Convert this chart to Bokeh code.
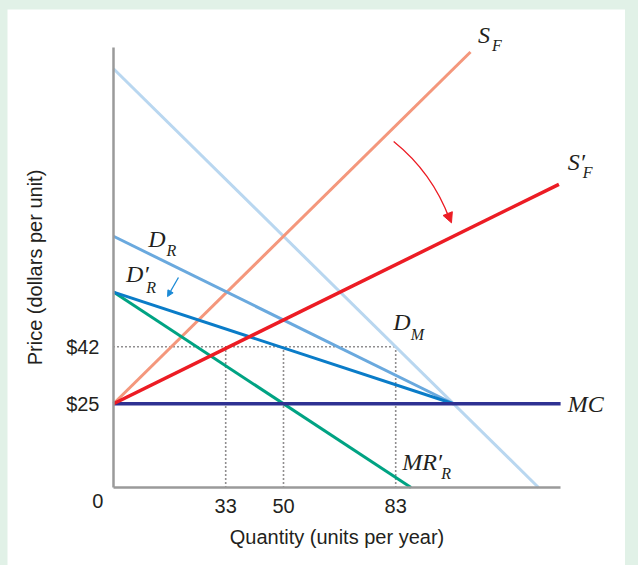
from bokeh.plotting import figure
from bokeh.models import Range1d, FixedTicker, Label, Arrow, NormalHead
from bokeh.embed import file_html
from bokeh.resources import INLINE

# ---------------- data ----------------
x_ticks = [33, 50, 83]
x_tick_labels = ["33", "50", "83"]
y_ticks = [25, 42]
y_tick_labels = ["$25", "$42"]
x_axis_max = 131.5
y_axis_max = 131.3

mc_price = 25
mc_q = [0, 131.5]

sf_q = [0, 105]          # S_F : P = 25 + Q
sf_p = [25, 130]
sf2_q = [0, 131]         # S'_F : P = 25 + Q/2
sf2_p = [25, 90.5]
dm_q = [0, 125]          # D_M : P = 125 - Q
dm_p = [125, 0]
dr_q = [0, 100]          # D_R : P = 75 - Q/2
dr_p = [75, 25]
dr2_q = [0, 100]         # D'_R : P = 58.3 - Q/3
dr2_p = [58.33, 25]
mr_q = [0, 87.5]         # MR'_R : P = 58.3 - 2Q/3
mr_p = [58.33, 0]

price_dot = 42
q_dots = [33, 50, 83]
q_dot_end = 83

# label texts and anchor positions (data units)
main_labels = [("S", 107.2, 135.0), ("S\u2032", 133.6, 97.1), ("D", 10.2, 74.1),
               ("D\u2032", 3.7, 63.7), ("D", 82.3, 49.4), ("MC", 133.6, 24.9),
               ("MR\u2032", 84.9, 7.6)]
sub_labels = [("F", 111.3, 132.0), ("F", 138.0, 94.1), ("R", 15.6, 70.6),
              ("R", 9.6, 59.8), ("M", 87.4, 45.8), ("R", 96.4, 4.3)]

# curved red arrow (start, control, end) and blue arrow
red_curve = dict(x0=82.4, y0=103.3, cx=93.8, cy=94.0, x1=98.9, y1=80.0)
red_head = dict(xs=98.2, ys=82.0, xe=99.4, ye=79.0)
blue_arrow = dict(xs=19.1, ys=62.7, xe=15.9, ye=57.0)

# ---------------- layout ----------------
W, H = 618, 556
sx, sy = 3.4, 3.35          # pixels per data unit
ox, oy = 106, 478           # position of the data origin inside the figure

p = figure(width=W, height=H, output_backend="svg", toolbar_location=None,
           x_range=Range1d(-ox / sx, (W - ox) / sx),
           y_range=Range1d(-(H - oy) / sy, oy / sy),
           min_border_left=0, min_border_right=0, min_border_top=0,
           min_border_bottom=0)
p.outline_line_color = None
p.grid.visible = False
p.background_fill_color = "white"
p.border_fill_color = "white"

axis_gray = "#9a9a9a"
text_col = "#231f20"
for ax in (p.xaxis[0], p.yaxis[0]):
    ax.fixed_location = 0
    ax.axis_line_color = axis_gray
    ax.axis_line_width = 2.5
    ax.major_tick_line_color = None
    ax.minor_tick_line_color = None
    ax.major_label_text_font = "Liberation Sans"
    ax.major_label_text_font_size = "20px"
    ax.major_label_text_color = text_col
    ax.axis_label_text_font = "Liberation Sans"
    ax.axis_label_text_font_size = "20px"
    ax.axis_label_text_font_style = "normal"
    ax.axis_label_text_color = text_col

p.xaxis.bounds = (0, x_axis_max)
p.xaxis.ticker = FixedTicker(ticks=x_ticks)
p.xaxis.major_label_overrides = {t: l for t, l in zip(x_ticks, x_tick_labels)}
p.xaxis.major_label_standoff = 5
p.xaxis.axis_label = "Quantity (units per year)"
p.xaxis.axis_label_standoff = 10

p.yaxis.bounds = (0, y_axis_max)
p.yaxis.ticker = FixedTicker(ticks=y_ticks)
p.yaxis.major_label_overrides = {t: l for t, l in zip(y_ticks, y_tick_labels)}
p.yaxis.major_label_standoff = 8
p.yaxis.axis_label = "Price (dollars per unit)"
p.yaxis.axis_label_standoff = 17

# dotted guide lines
p.line([0, q_dot_end], [price_dot, price_dot], line_color=text_col,
       line_width=1.6, line_dash="1 3")
for q in q_dots:
    p.line([q, q], [0, price_dot], line_color=text_col, line_width=1.6,
           line_dash="1 3")

# curves
p.line(dm_q, dm_p, line_color="#b9d7f0", line_width=3)
p.line(sf_q, sf_p, line_color="#f4977c", line_width=3)
p.line(dr_q, dr_p, line_color="#6aa9de", line_width=3)
p.line(mr_q, mr_p, line_color="#00a383", line_width=3)
p.line(dr2_q, dr2_p, line_color="#0a7cc8", line_width=3)
p.line(mc_q, [mc_price, mc_price], line_color="#2e3192", line_width=3.5)
p.line(sf2_q, sf2_p, line_color="#ec1c24", line_width=3.5)

# red curved arrow
p.quadratic(x0=[red_curve["x0"]], y0=[red_curve["y0"]], cx=[red_curve["cx"]],
            cy=[red_curve["cy"]], x1=[red_curve["x1"]], y1=[red_curve["y1"]],
            line_color="#ec1c24", line_width=1.3)
p.add_layout(Arrow(end=NormalHead(size=10, fill_color="#ec1c24", line_color="#ec1c24",
                                  line_width=1),
                   x_start=red_head["xs"], y_start=red_head["ys"],
                   x_end=red_head["xe"], y_end=red_head["ye"],
                   line_color="#ec1c24", line_width=1.3))
p.add_layout(Arrow(end=NormalHead(size=6, fill_color="#1b8ad6", line_color="#1b8ad6",
                                  line_width=1),
                   x_start=blue_arrow["xs"], y_start=blue_arrow["ys"],
                   x_end=blue_arrow["xe"], y_end=blue_arrow["ye"],
                   line_color="#1b8ad6", line_width=1.3))

# curve labels
for t, x, y in main_labels:
    p.add_layout(Label(x=x, y=y, text=t, text_font="Liberation Serif",
                       text_font_style="italic", text_font_size="24px",
                       text_color=text_col, text_align="left",
                       text_baseline="alphabetic"))
for t, x, y in sub_labels:
    p.add_layout(Label(x=x, y=y, text=t, text_font="Liberation Serif",
                       text_font_style="italic", text_font_size="16px",
                       text_color=text_col, text_align="left",
                       text_baseline="alphabetic"))

# origin "0"
p.add_layout(Label(x=-4.6, y=0, y_offset=-6, text="0", text_font="Liberation Sans",
                   text_font_size="20px", text_color=text_col, text_align="center",
                   text_baseline="top"))

html = file_html(p, INLINE)
html = html.replace(
    "</head>",
    "<style>html,body{margin:0;background-color:#e1f1e7;}"
    "body{padding:9px 0 0 7px;box-sizing:border-box;}</style></head>", 1)
open("out.html", "w").write(html)
